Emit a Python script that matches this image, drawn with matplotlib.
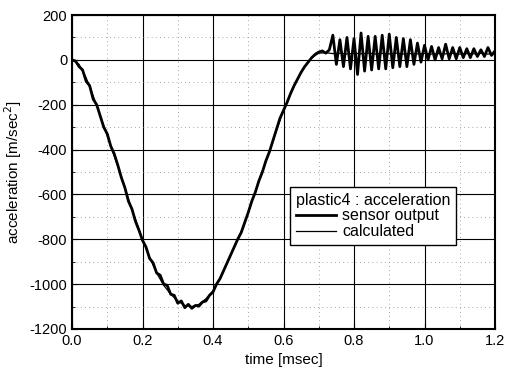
import numpy as np
import matplotlib.pyplot as plt
from matplotlib.ticker import MultipleLocator

plt.rcParams['font.family'] = ['Liberation Sans', 'DejaVu Sans']
plt.rcParams['axes.unicode_minus'] = False

# sensor output, sampled every 0.01 msec from 0.0 to 1.2 msec
sensor_t = np.linspace(0.0, 1.2, 121)
sensor_acc = [
    0, -5, -30, -45, -95, -115, -175, -200, -250, -300,
    -330, -385, -420, -470, -525, -570, -630, -665, -720, -760,
    -805, -835, -885, -905, -950, -960, -1000, -1005, -1045, -1050,
    -1085, -1075, -1105, -1090, -1108, -1095, -1098, -1080, -1075, -1050,
    -1035, -1000, -975, -940, -905, -870, -835, -800, -770, -725,
    -680, -630, -590, -540, -500, -450, -410, -360, -310, -260,
    -225, -190, -150, -115, -85, -55, -30, -10, 10, 25,
    35, 40, 30, 45, 110, -20, 90, -30, 100, -40,
    95, -65, 120, -50, 105, -45, 105, -40, 110, -40,
    115, -35, 100, -30, 95, -30, 90, -20, 75, -10,
    65, 0, 60, 0, 55, 5, 70, 5, 55, 5,
    55, 10, 50, 10, 50, 15, 45, 15, 55, 20,
    40,
]

# calculated acceleration, every 0.02 msec
calc_t = np.linspace(0.0, 1.2, 61)
calc_acc = [
    0, -20, -80, -160, -250, -340, -430, -520, -620, -710,
    -800, -880, -950, -1005, -1045, -1075, -1095, -1100, -1090, -1065,
    -1030, -975, -905, -835, -765, -680, -590, -500, -410, -315,
    -225, -150, -85, -30, 10, 30, 32, 28, 30, 26,
    30, 27, 31, 26, 29, 27, 30, 26, 28, 27,
    29, 26, 28, 27, 29, 26, 28, 27, 29, 26,
    28,
]

fig = plt.figure(figsize=(5.09, 3.76), dpi=100)
ax = fig.add_axes([0.1415, 0.125, 0.831, 0.835])

ax.plot(sensor_t, sensor_acc, color='black', lw=2.0, label='sensor output')
ax.plot(calc_t, calc_acc, color='black', lw=0.9, label='calculated')

ax.set_xlim(0.0, 1.2)
ax.set_ylim(-1200, 200)
ax.xaxis.set_major_locator(MultipleLocator(0.2))
ax.xaxis.set_minor_locator(MultipleLocator(0.1))
ax.yaxis.set_major_locator(MultipleLocator(200))
ax.yaxis.set_minor_locator(MultipleLocator(100))
ax.xaxis.set_major_formatter(plt.FormatStrFormatter('%.1f'))

ax.grid(True, which='major', color='black', lw=0.8, ls='-')
ax.grid(True, which='minor', color='#888888', lw=0.6, ls=(0, (1, 4)))
ax.set_axisbelow(True)
ax.tick_params(which='both', direction='in', labelsize=10.5)
ax.tick_params(which='major', length=4)
ax.tick_params(which='minor', length=2)
for s in ax.spines.values():
    s.set_linewidth(1.5)

ax.set_xlabel('time [msec]', fontsize=11)
ax.set_ylabel('acceleration [m/sec$^2$]', fontsize=11)

leg = ax.legend(title='plastic4 : acceleration', loc='upper left',
                bbox_to_anchor=(0.516, 0.452), fontsize=11.5, title_fontsize=11.5,
                fancybox=False, framealpha=1, edgecolor='black',
                handlelength=2.5, handletextpad=0.4, borderpad=0.35,
                labelspacing=0.05, borderaxespad=0)
leg.get_frame().set_linewidth(1.0)
leg._legend_box.align = 'left'

fig.savefig('out.png', dpi=100)
